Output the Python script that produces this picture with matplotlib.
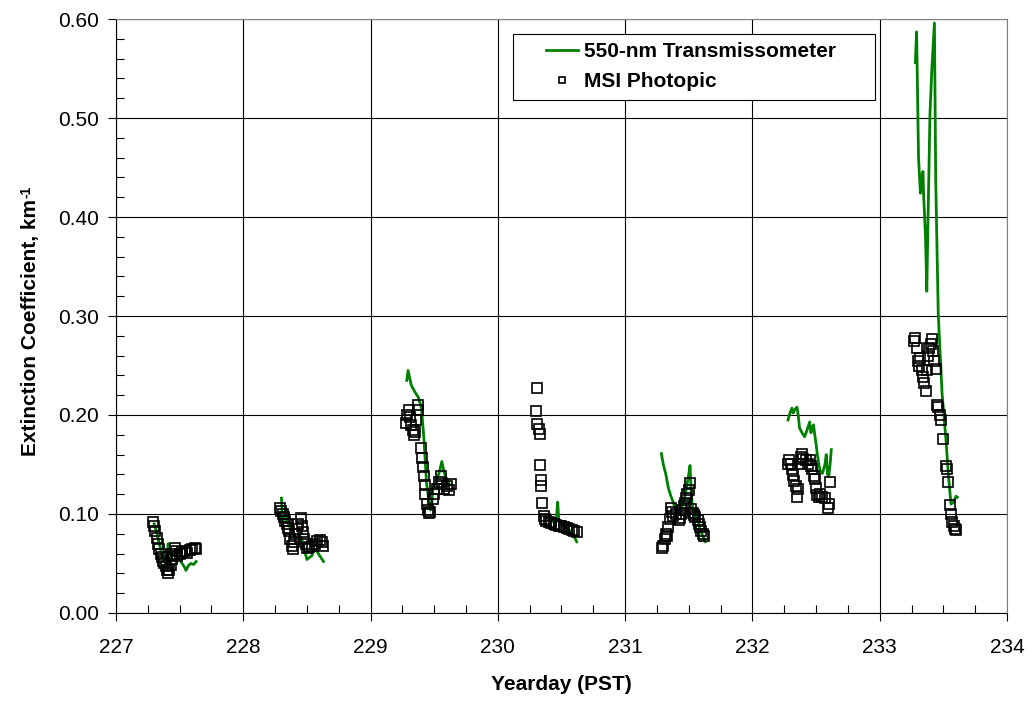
import numpy as np
import matplotlib.pyplot as plt
from matplotlib.patches import Rectangle
from matplotlib.ticker import MultipleLocator, FormatStrFormatter

plt.rcParams['font.family'] = ['Liberation Sans', 'DejaVu Sans']

# 550-nm transmissometer, one segment per day
tr_x_227 = [227.30, 227.32, 227.34, 227.36, 227.38, 227.40, 227.41, 227.42, 227.44, 227.46,
            227.48, 227.50, 227.52, 227.54, 227.55, 227.57, 227.59, 227.61, 227.63]
tr_y_227 = [0.090, 0.082, 0.070, 0.060, 0.052, 0.045, 0.070, 0.050, 0.058, 0.062,
            0.058, 0.054, 0.050, 0.046, 0.043, 0.048, 0.050, 0.049, 0.052]
tr_x_228 = [228.30, 228.31, 228.32, 228.34, 228.36, 228.38, 228.40, 228.42, 228.44, 228.46,
            228.48, 228.50, 228.52, 228.54, 228.55, 228.57, 228.59, 228.61, 228.63]
tr_y_228 = [0.116, 0.090, 0.098, 0.094, 0.088, 0.084, 0.080, 0.076, 0.078, 0.074,
            0.064, 0.054, 0.056, 0.058, 0.062, 0.064, 0.060, 0.056, 0.052]
tr_x_229 = [229.285, 229.295, 229.32, 229.35, 229.375, 229.40, 229.42, 229.44, 229.46, 229.47,
            229.48, 229.49, 229.52, 229.54, 229.56, 229.58, 229.60, 229.62]
tr_y_229 = [0.235, 0.245, 0.230, 0.223, 0.218, 0.207, 0.175, 0.131, 0.112, 0.104,
            0.110, 0.125, 0.135, 0.142, 0.153, 0.141, 0.135, 0.130]
tr_x_230 = [230.38, 230.40, 230.42, 230.44, 230.46, 230.47, 230.48, 230.50, 230.52, 230.54,
            230.56, 230.58, 230.60, 230.62]
tr_y_230 = [0.095, 0.094, 0.093, 0.092, 0.094, 0.112, 0.092, 0.090, 0.088, 0.086,
            0.084, 0.081, 0.077, 0.072]
tr_x_231 = [231.285, 231.30, 231.32, 231.34, 231.36, 231.38, 231.40, 231.42, 231.44, 231.46,
            231.48, 231.50, 231.51, 231.52, 231.53, 231.55, 231.57, 231.59, 231.61, 231.63]
tr_y_231 = [0.161, 0.150, 0.140, 0.126, 0.118, 0.111, 0.103, 0.100, 0.105, 0.112,
            0.125, 0.140, 0.149, 0.120, 0.107, 0.098, 0.094, 0.084, 0.078, 0.072]
tr_x_232 = [232.28, 232.29, 232.31, 232.32, 232.33, 232.35, 232.36, 232.37, 232.39, 232.41,
            232.43, 232.45, 232.46, 232.47, 232.48, 232.49, 232.50, 232.51, 232.53, 232.55,
            232.57, 232.58, 232.59, 232.60, 232.61, 232.62]
tr_y_232 = [0.195, 0.200, 0.207, 0.202, 0.205, 0.208, 0.200, 0.187, 0.182, 0.178,
            0.185, 0.193, 0.182, 0.187, 0.190, 0.180, 0.171, 0.160, 0.144, 0.141,
            0.150, 0.160, 0.140, 0.138, 0.150, 0.165]
tr_x_233 = [233.28, 233.29, 233.30, 233.305, 233.32, 233.33, 233.34, 233.345, 233.36, 233.37,
            233.38, 233.395, 233.41, 233.43, 233.44, 233.46, 233.49, 233.52, 233.54, 233.56,
            233.58, 233.60, 233.61]
tr_y_233 = [0.556, 0.587, 0.500, 0.460, 0.424, 0.440, 0.446, 0.423, 0.380, 0.325,
            0.400, 0.504, 0.550, 0.596, 0.439, 0.302, 0.222, 0.176, 0.139, 0.110,
            0.112, 0.118, 0.117]

# MSI photopic
msi_x_227 = [227.29, 227.30, 227.31, 227.32, 227.33, 227.34, 227.35, 227.36, 227.37, 227.38,
             227.39, 227.40, 227.41, 227.42, 227.43, 227.44, 227.45, 227.46, 227.47, 227.48,
             227.50, 227.52, 227.54, 227.56, 227.58, 227.60, 227.62, 227.63]
msi_y_227 = [0.092, 0.088, 0.083, 0.076, 0.070, 0.065, 0.060, 0.057, 0.053, 0.050,
             0.047, 0.043, 0.040, 0.043, 0.048, 0.055, 0.060, 0.066, 0.063, 0.058,
             0.060, 0.062, 0.063, 0.061, 0.064, 0.065, 0.066, 0.065]
msi_x_228 = [228.29, 228.30, 228.31, 228.32, 228.33, 228.34, 228.35, 228.36, 228.37, 228.38,
             228.39, 228.40, 228.41, 228.42, 228.43, 228.45, 228.46, 228.47, 228.48, 228.49,
             228.50, 228.52, 228.54, 228.56, 228.58, 228.60, 228.62, 228.63]
msi_y_228 = [0.106, 0.103, 0.100, 0.097, 0.093, 0.090, 0.086, 0.083, 0.075, 0.068,
             0.065, 0.072, 0.080, 0.085, 0.090, 0.096, 0.088, 0.082, 0.075, 0.070,
             0.066, 0.067, 0.068, 0.070, 0.073, 0.074, 0.072, 0.068]
msi_x_229 = [229.28, 229.29, 229.30, 229.31, 229.32, 229.33, 229.34, 229.35, 229.36, 229.37,
             229.375, 229.40, 229.405, 229.41, 229.42, 229.425, 229.43, 229.44, 229.45, 229.46,
             229.47, 229.49, 229.50, 229.52, 229.54, 229.55, 229.56, 229.58, 229.60, 229.62,
             229.63]
msi_y_229 = [0.192, 0.200, 0.205, 0.198, 0.190, 0.185, 0.180, 0.183, 0.195, 0.205,
             0.210, 0.167, 0.157, 0.147, 0.138, 0.129, 0.120, 0.110, 0.104, 0.101,
             0.102, 0.115, 0.120, 0.125, 0.132, 0.138, 0.130, 0.125, 0.128, 0.124,
             0.130]
msi_x_230 = [230.31, 230.30, 230.31, 230.32, 230.33, 230.33, 230.34, 230.34, 230.35, 230.36,
             230.37, 230.38, 230.40, 230.42, 230.44, 230.46, 230.48, 230.50, 230.52, 230.54,
             230.56, 230.58, 230.60, 230.62]
msi_y_230 = [0.227, 0.204, 0.191, 0.186, 0.181, 0.149, 0.134, 0.128, 0.111, 0.098,
             0.095, 0.093, 0.092, 0.091, 0.090, 0.089, 0.088, 0.088, 0.087, 0.086,
             0.085, 0.084, 0.083, 0.082]
msi_x_231 = [231.29, 231.30, 231.31, 231.32, 231.33, 231.34, 231.35, 231.36, 231.37, 231.38,
             231.40, 231.42, 231.43, 231.44, 231.45, 231.46, 231.47, 231.48, 231.49, 231.50,
             231.51, 231.52, 231.53, 231.54, 231.55, 231.57, 231.58, 231.59, 231.60, 231.61,
             231.62]
msi_y_231 = [0.066, 0.068, 0.075, 0.080, 0.078, 0.087, 0.095, 0.106, 0.102, 0.098,
             0.100, 0.094, 0.096, 0.100, 0.104, 0.108, 0.111, 0.116, 0.120, 0.124,
             0.131, 0.105, 0.101, 0.099, 0.097, 0.094, 0.090, 0.087, 0.083, 0.080,
             0.078]
msi_x_232 = [232.28, 232.29, 232.30, 232.31, 232.32, 232.33, 232.34, 232.35, 232.36, 232.37,
             232.38, 232.39, 232.40, 232.42, 232.44, 232.45, 232.46, 232.47, 232.48, 232.49,
             232.50, 232.51, 232.52, 232.53, 232.55, 232.57, 232.59, 232.60, 232.61]
msi_y_232 = [0.150, 0.155, 0.150, 0.145, 0.139, 0.133, 0.128, 0.117, 0.125, 0.150,
             0.158, 0.161, 0.156, 0.155, 0.150, 0.155, 0.148, 0.145, 0.138, 0.135,
             0.126, 0.119, 0.117, 0.120, 0.117, 0.116, 0.106, 0.110, 0.132]
msi_x_233 = [233.27, 233.28, 233.29, 233.30, 233.31, 233.32, 233.33, 233.34, 233.35, 233.36,
             233.37, 233.38, 233.39, 233.40, 233.41, 233.42, 233.43, 233.44, 233.45, 233.46,
             233.47, 233.48, 233.50, 233.52, 233.53, 233.54, 233.55, 233.56, 233.57, 233.58,
             233.59, 233.60]
msi_y_233 = [0.275, 0.278, 0.268, 0.255, 0.250, 0.258, 0.245, 0.238, 0.232, 0.224,
             0.245, 0.260, 0.268, 0.272, 0.277, 0.265, 0.255, 0.246, 0.210, 0.208,
             0.200, 0.195, 0.176, 0.148, 0.145, 0.132, 0.109, 0.100, 0.092, 0.088,
             0.085, 0.084]

tr_days = [(tr_x_227, tr_y_227), (tr_x_228, tr_y_228), (tr_x_229, tr_y_229), (tr_x_230, tr_y_230),
           (tr_x_231, tr_y_231), (tr_x_232, tr_y_232), (tr_x_233, tr_y_233)]
msi_x = msi_x_227 + msi_x_228 + msi_x_229 + msi_x_230 + msi_x_231 + msi_x_232 + msi_x_233
msi_y = msi_y_227 + msi_y_228 + msi_y_229 + msi_y_230 + msi_y_231 + msi_y_232 + msi_y_233

# join day segments with gaps
tr_x, tr_y = [], []
for dx, dy in tr_days:
    tr_x += dx + [np.nan]
    tr_y += dy + [np.nan]

fig = plt.figure(figsize=(10.29, 7.02), dpi=100)
ax = fig.add_axes([0.1127, 0.1268, 0.8659, 0.8461])

ax.plot(tr_x, tr_y, color='#008000', lw=2.0, label='550-nm Transmissometer', zorder=3)
ax.plot(msi_x, msi_y, ls='none', marker='s', ms=7, mfc='none', mec='black', mew=1.2,
        label='MSI Photopic', zorder=4)

ax.set_xlim(227, 234)
ax.set_ylim(0, 0.6)
ax.xaxis.set_major_locator(MultipleLocator(1))
ax.xaxis.set_minor_locator(MultipleLocator(0.25))
ax.yaxis.set_major_locator(MultipleLocator(0.1))
ax.yaxis.set_minor_locator(MultipleLocator(0.02))
ax.yaxis.set_major_formatter(FormatStrFormatter('%.2f'))
ax.grid(True, which='major', color='black', lw=0.8)
ax.tick_params(which='major', direction='out', length=6, width=0.8, labelsize=15, pad=6)
ax.tick_params(axis='x', which='major', pad=12)
ax.tick_params(which='minor', direction='in', length=6, width=0.8)
for s in ['top', 'right']:
    ax.spines[s].set_color('#808080')
for s in ['left', 'bottom']:
    ax.spines[s].set_color('black')

ax.set_xlabel('Yearday (PST)', fontsize=15, fontweight='bold', labelpad=13)
ax.set_ylabel('Extinction Coefficient, km', fontsize=15, fontweight='bold')
ax.yaxis.set_label_coords(-0.085, 0.48)

# legend box drawn separately so it can have the wide side margins
ax.add_patch(Rectangle((0.4456, 0.8636), 0.4063, 0.1111, transform=ax.transAxes,
                       facecolor='white', edgecolor='black', lw=0.8, zorder=5))
leg = ax.legend(loc='upper left', bbox_to_anchor=(0.4733, 0.9747), borderaxespad=0,
                frameon=False, markerscale=0.55, handlelength=1.55, handletextpad=0.25,
                prop={'size': 15, 'weight': 'bold'})
leg.set_zorder(6)

# superscript -1 after the y label
fig.canvas.draw()
bb = ax.yaxis.label.get_window_extent()
fig.text(bb.x0 - 2, bb.y1 + 1, '-1', rotation=90, fontsize=10, fontweight='bold',
         ha='left', va='bottom', transform=None)

fig.savefig('out.png', dpi=100)
